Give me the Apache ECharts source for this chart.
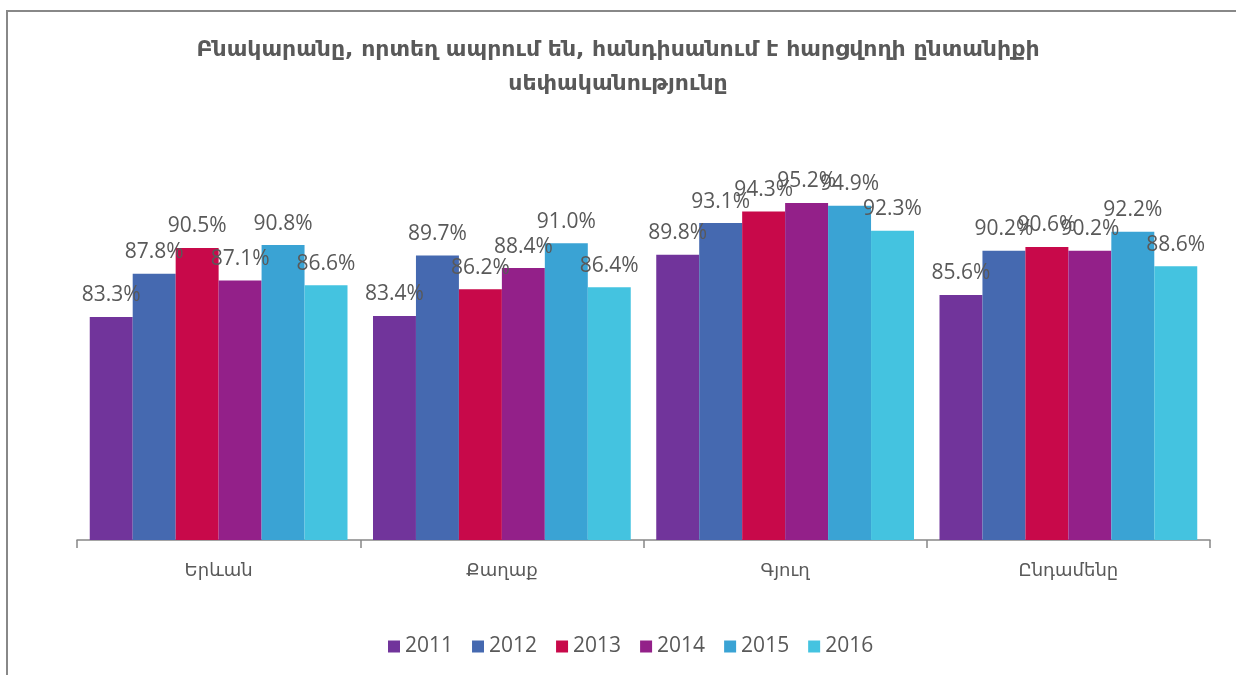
<!DOCTYPE html>
<html>
<head>
<meta charset="utf-8">
<script src="https://cdn.jsdelivr.net/npm/echarts@6/dist/echarts.min.js"></script>
<style>
	html, body { margin: 0; padding: 0; background: #fff; }
	#frame {
		position: absolute; left: 6px; top: 10px; width: 1240px; height: 680px;
		border-left: 2px solid #888; border-top: 2px solid #888;
	}
	#chart { position: absolute; left: 0; top: 0; width: 1236px; height: 675px; }
</style>
</head>
<body>
<div id="frame"></div>
<div id="chart"></div>
<script>
	var titleText = 'Բնակարանը, որտեղ ապրում են, հանդիսանում է հարցվողի ընտանիքի\nսեփականությունը';
	var categories = ['Երևան', 'Քաղաք', 'Գյուղ', 'Ընդամենը'];
	var years = ['2011', '2012', '2013', '2014', '2015', '2016'];
	var colors = ['#71349b', '#4569b0', '#c8094a', '#932089', '#3aa3d4', '#44c3e0'];
	// արժեքներ ըստ տարիների (Երևան, Քաղաք, Գյուղ, Ընդամենը)
	var v2011 = [83.3, 83.4, 89.8, 85.6];
	var v2012 = [87.8, 89.7, 93.1, 90.2];
	var v2013 = [90.5, 86.2, 94.3, 90.6];
	var v2014 = [87.1, 88.4, 95.2, 90.2];
	var v2015 = [90.8, 91.0, 94.9, 92.2];
	var v2016 = [86.6, 86.4, 92.3, 88.6];
	var values = [v2011, v2012, v2013, v2014, v2015, v2016];

	var chart = echarts.init(document.getElementById('chart'));

	var series = years.map(function (y, i) {
		return {
			name: y,
			type: 'bar',
			data: values[i],
			barGap: '0%',
			barCategoryGap: '9%',
			itemStyle: { color: colors[i] },
			label: {
				show: true,
				position: 'top',
				distance: 11,
				color: '#595959',
				fontSize: 21,
				fontFamily: 'Open Sans',
				formatter: function (p) { return p.value.toFixed(1) + '%'; }
			}
		};
	});

	chart.setOption({
		animation: false,
		title: {
			text: titleText,
			left: 'center',
			top: 28,
			textStyle: {
				color: '#595959',
				fontSize: 22,
				fontWeight: 'bold',
				fontFamily: 'DejaVu Sans',
				lineHeight: 34
			}
		},
		legend: {
			bottom: 13,
			left: 383,
			data: years,
			icon: 'rect',
			itemWidth: 12,
			itemHeight: 12,
			itemGap: 19,
			textStyle: { color: '#595959', fontSize: 21, fontFamily: 'Open Sans' }
		},
		grid: { left: 77, right: 26, top: 157, bottom: 135 },
		xAxis: {
			type: 'category',
			data: categories,
			axisLine: { lineStyle: { color: '#888', width: 1.5 } },
			axisTick: { show: true, length: 8, lineStyle: { color: '#888', width: 1.5 } },
			axisLabel: { color: '#595959', fontSize: 18, fontFamily: 'DejaVu Sans', margin: 22 }
		},
		yAxis: {
			type: 'value',
			min: 60,
			max: 100,
			show: false
		},
		series: series
	});
</script>
</body>
</html>
